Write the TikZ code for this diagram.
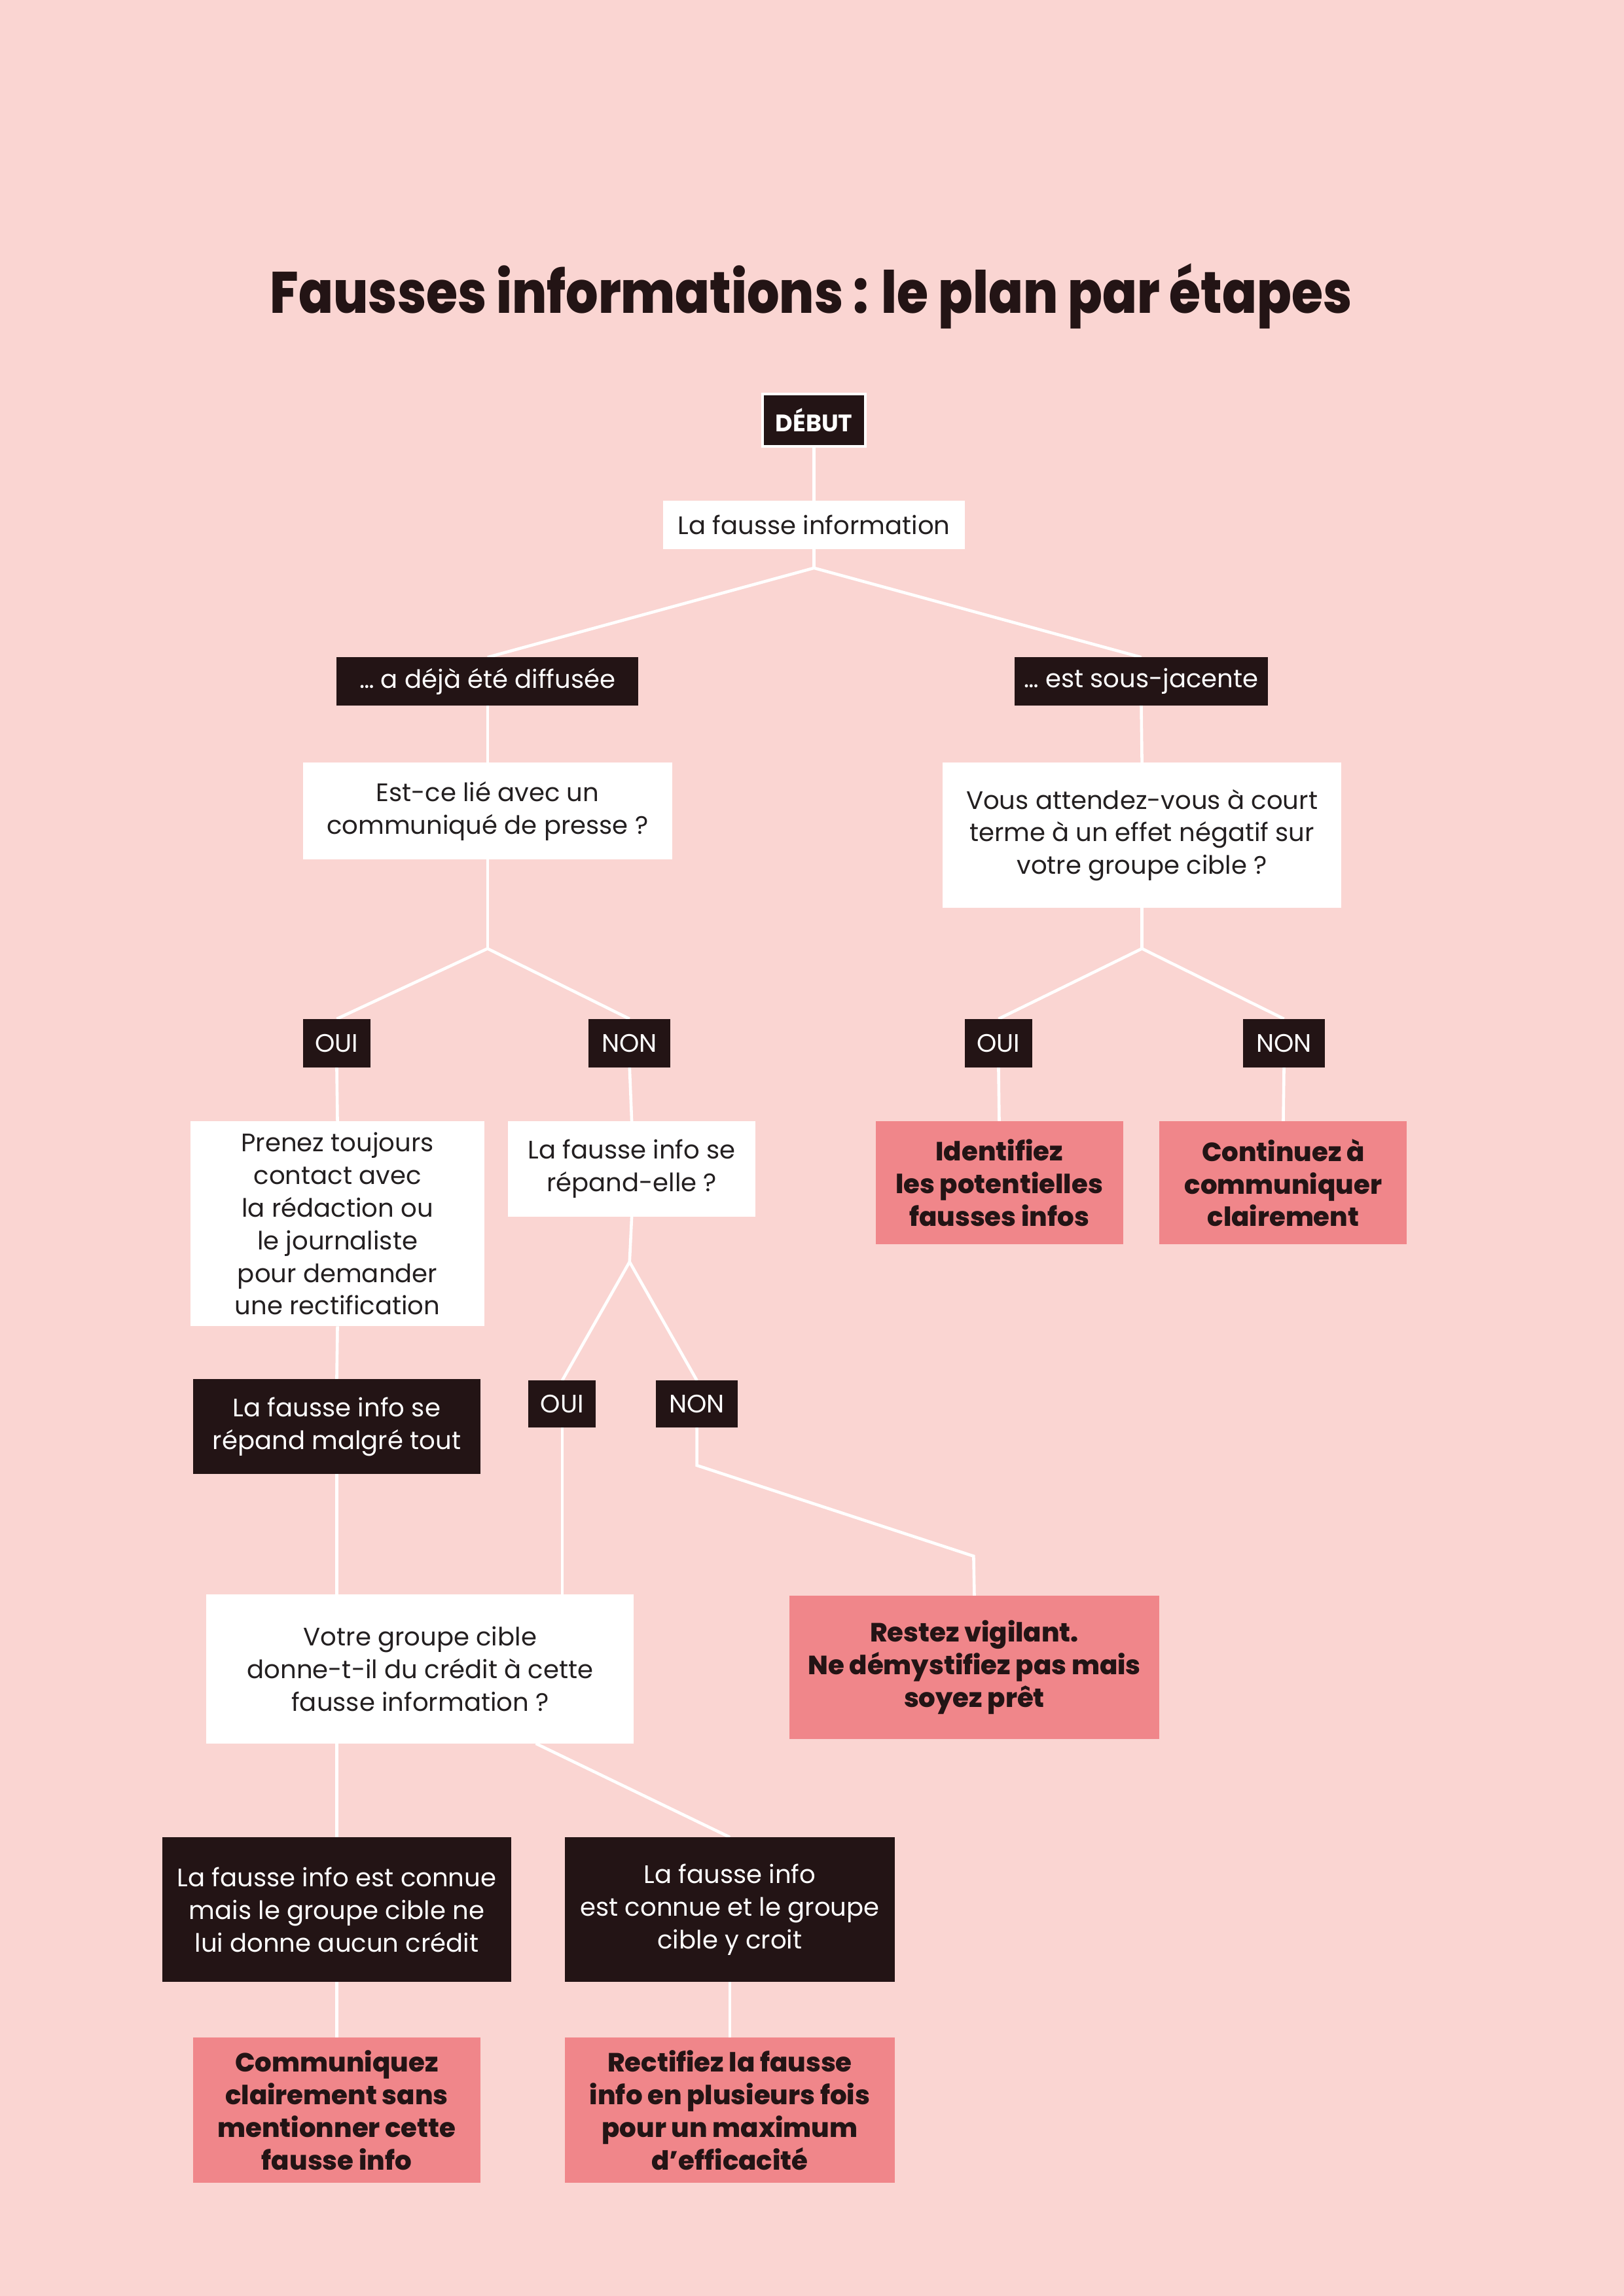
\documentclass[tikz,border=0pt]{standalone}
\usepackage{fontspec}
\usepackage{graphicx}
\setmainfont{Poppins}
\newfontfamily\heavyfont{Poppins ExtraBold}
\usetikzlibrary{backgrounds,calc}
\definecolor{bgpink}{HTML}{FAD5D2}
\definecolor{darkbox}{HTML}{231415}
\definecolor{pinkbox}{HTML}{F0868A}
\definecolor{ink}{HTML}{231F20}
\def\pxu{0.018936cm}
\newcommand\bx[7]{\node[#2, minimum width={(#5-#3)*\pxu}, minimum height={(#6-#4)*\pxu}] (#1) at ({(#3+#5)/2},{(#4+#6)/2}) {#7};}
\tikzset{
  basebox/.style={inner sep=0pt, outer sep=0pt, align=center},
  wbox/.style={basebox, fill=white, text=ink, font=\fontsize{9.3}{12}\selectfont},
  dbox/.style={basebox, fill=darkbox, text=white, font=\fontsize{9.3}{12}\selectfont},
  pbox/.style={basebox, fill=pinkbox, text=darkbox, font=\fontsize{9.7}{12}\selectfont\heavyfont},
  startbox/.style={basebox, fill=darkbox, text=white, draw=white, line width=1pt, font=\fontsize{8.8}{12}\selectfont\bfseries},
  link/.style={draw=white, line width=1.1pt},
}
\begin{document}
\begin{tikzpicture}[x=0.018936cm, y=-0.018936cm]
\useasboundingbox (0,0) rectangle (1109,1568.4);

% title
\node[anchor=base, text=darkbox, inner sep=0pt] (title) at (554,213.8)
  {\resizebox{398pt}{\height}{\fontsize{21.5}{24}\selectfont\heavyfont Fausses informations : le plan par étapes}};

% boxes
\bx{debut}{startbox}{521}{269}{591}{305}{DÉBUT}
\bx{lfi}{wbox}{453}{342}{659}{375}{La fausse information}
\bx{adeja}{dbox}{230}{449}{436}{482}{\raisebox{-1pt}{… a déjà été diffusée}}
\bx{sousj}{dbox}{693}{449}{866}{482}{\raisebox{-1pt}{… est sous-jacente}}
\bx{q1}{wbox}{207}{521}{459}{587}{Est-ce lié avec un\\communiqué de presse ?}
\bx{q2}{wbox}{644}{521}{916}{620}{Vous attendez-vous à court\\terme à un effet négatif sur\\votre groupe cible ?}
\bx{oui1}{dbox}{207}{696}{253}{729}{OUI}
\bx{non1}{dbox}{402}{696}{458}{729}{NON}
\bx{oui3}{dbox}{659}{696}{705}{729}{OUI}
\bx{non3}{dbox}{849}{696}{905}{729}{NON}
\bx{prenez}{wbox}{130}{766}{331}{906}{Prenez toujours\\contact avec\\la rédaction ou\\le journaliste\\pour demander\\une rectification}
\bx{q3}{wbox}{347}{766}{516}{831}{La fausse info se\\répand-elle ?}
\bx{ident}{pbox}{598}{766}{767}{850}{Identifiez\\les potentielles\\fausses infos}
\bx{contin}{pbox}{792}{766}{961}{850}{Continuez à\\communiquer\\clairement}
\bx{oui2}{dbox}{361}{943}{407}{975}{OUI}
\bx{non2}{dbox}{448}{943}{504}{975}{NON}
\bx{malgre}{dbox}{132}{942}{328}{1007}{La fausse info se\\répand malgré tout}
\bx{votre}{wbox}{141}{1089}{433}{1191}{Votre groupe cible\\donne-t-il du crédit à cette\\fausse information ?}
\bx{restez}{pbox}{539}{1090}{792}{1188}{Restez vigilant.\\Ne démystifiez pas mais\\soyez prêt}
\bx{connue1}{dbox}{111}{1255}{349}{1354}{La fausse info est connue\\mais le groupe cible ne\\lui donne aucun crédit}
\bx{connue2}{dbox}{386}{1255}{611}{1354}{La fausse info\\est connue et le groupe\\cible y croit}
\bx{comm}{pbox}{132}{1392}{328}{1491}{Communiquez\\clairement sans\\mentionner cette\\fausse info}
\bx{rect}{pbox}{386}{1392}{611}{1491}{Rectifiez la fausse\\info en plusieurs fois\\pour un maximum\\d’efficacité}

% junction points
\coordinate (j1) at (556,388);
\coordinate (j2) at (333,648);
\coordinate (j3) at (780,648);
\coordinate (j4) at (430,862);
\coordinate (k1) at (476,1001);
\coordinate (k2) at (665,1063);
\coordinate (v1) at (366,1191);

\begin{scope}[on background layer]
  \fill[bgpink] (0,0) rectangle (1109,1568.4);
  \draw[link] (debut.south) -- (lfi.north);
  \draw[link] (lfi.south) -- (j1);
  \draw[link] (j1) -- (adeja.north);
  \draw[link] (j1) -- (sousj.north);
  \draw[link] (adeja.south) -- (q1.north);
  \draw[link] (sousj.south) -- (q2.north);
  \draw[link] (q1.south) -- (j2);
  \draw[link] (j2) -- (oui1.north);
  \draw[link] (j2) -- (non1.north);
  \draw[link] (q2.south) -- (j3);
  \draw[link] (j3) -- (oui3.north);
  \draw[link] (j3) -- (non3.north);
  \draw[link] (oui1.south) -- (prenez.north);
  \draw[link] (non1.south) -- (q3.north);
  \draw[link] (oui3.south) -- (ident.north);
  \draw[link] (non3.south) -- (contin.north);
  \draw[link] (prenez.south) -- (malgre.north);
  \draw[link] (malgre.south) -- (malgre.south |- votre.north);
  \draw[link] (q3.south) -- (j4);
  \draw[link] (j4) -- (oui2.north);
  \draw[link] (j4) -- (non2.north);
  \draw[link] (oui2.south) -- (oui2.south |- votre.north);
  \draw[link] (non2.south) -- (k1) -- (k2) -- (restez.north);
  \draw[link] (connue1.north |- votre.south) -- (connue1.north);
  \draw[link] (v1) -- (connue2.north);
  \draw[link] (connue1.south) -- (comm.north);
  \draw[link] (connue2.south) -- (rect.north);
\end{scope}
\end{tikzpicture}
\end{document}
